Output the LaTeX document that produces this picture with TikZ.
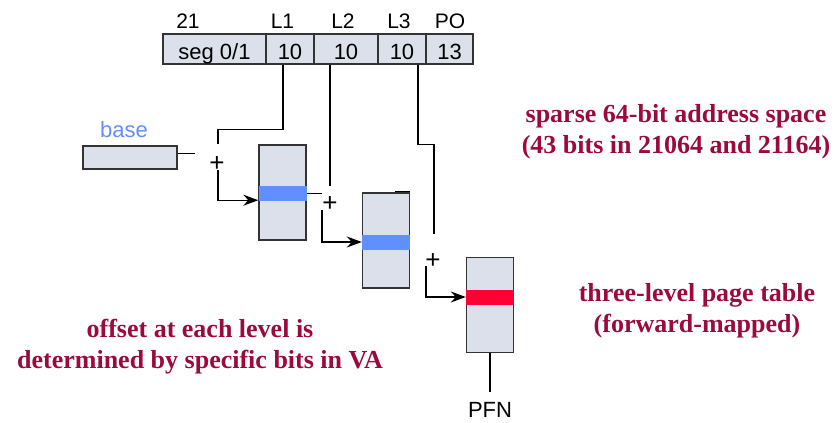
\documentclass[tikz,border=0pt]{standalone}
\usepackage{fontspec}
\setmainfont{Liberation Serif}
\setsansfont{Liberation Sans}
\usepackage{tikz}
\usetikzlibrary{arrows.meta,calc}
\definecolor{BoxFill}{HTML}{DCE0EA}
\definecolor{BoxLine}{HTML}{333333}
\definecolor{BandBlue}{HTML}{6090FF}
\definecolor{BandRed}{HTML}{FF0033}
\definecolor{NoteRed}{HTML}{9B0A3A}

\begin{document}
\begin{tikzpicture}[x=1pt,y=-1pt,
      every node/.style={font=\sffamily\fontsize{22}{26}\selectfont, inner sep=0pt},
      FD/.style={draw=BoxLine, fill=BoxFill, line width=1.4pt, minimum height=30pt,
          text height=21pt, text depth=0pt},
      HD/.style={font=\sffamily\fontsize{21}{25}\selectfont},
      TB/.style={draw=BoxLine, fill=BoxFill, line width=1.4pt,
          minimum width=47pt, minimum height=95pt},
      BD/.style={minimum width=48pt, minimum height=15pt},
      PL/.style={font=\sffamily\fontsize{26}{30}\selectfont},
      NT/.style={font=\rmfamily\bfseries\fontsize{26}{31}\selectfont, text=NoteRed, align=center},
      ln/.style={line width=1.3pt},
      ar/.style={-{Stealth[length=15pt,width=11pt,inset=5pt]}, line width=1.3pt},
    ]
    \useasboundingbox (0,0) rectangle (839,423);

    % VA fields
    \node[FD, minimum width=103pt] (seg) at (214.5,49) {seg 0/1};
    \node[FD, minimum width=48pt]  (l1f) at (290,49)   {10};
    \node[FD, minimum width=64pt]  (l2f) at (346,49)   {10};
    \node[FD, minimum width=48pt]  (l3f) at (402,49)   {10};
    \node[FD, minimum width=47pt]  (pof) at (449.5,49) {13};
    \node[HD] (h0) at (188,21.5)   {21};
    \node[HD] (h1) at (282.5,21.5) {L1};
    \node[HD] (h2) at (343,21.5)   {L2};
    \node[HD] (h3) at (399,21.5)   {L3};
    \node[HD] (h4) at (450,21.5)   {PO};

    % base register
    \node[draw=BoxLine, fill=BoxFill, line width=1.4pt,
      minimum width=94pt, minimum height=23pt] (base) at (130,157.5) {};
    \node[text=BandBlue] (baselbl) at (124,130) {base};

    % tables
    \node[TB] (t1) at (282.5,192.5) {};
    \node[TB] (t2) at (386,240.5) {};
    \node[TB] (t3) at (490,305) {};
    \node[BD, fill=BandBlue] (b1) at (282.5,193.5) {};
    \node[BD, fill=BandBlue] (b2) at (386,242) {};
    \node[BD, fill=BandRed]  (b3) at (490,297) {};
    \node (pfn) at (490,410) {PFN};

    % adders
    \node[PL] (plus1) at (217,164)   {+};
    \node[PL] (plus2) at (330,203.5) {+};
    \node[PL] (plus3) at (433,260.5) {+};

    % level 1
    \draw[ln] ([xshift=-7pt]l1f.south) -- ++(0,65) -| ($(plus1)+(1,-20)$);
    \draw[ln] ([yshift=4pt]base.east) -- ++(17,0);
    \draw[ar] ($(plus1)+(1,6)$) |- ([yshift=1pt]b1.south west);
    \draw[ln] (b1.east) -- ++(15,0);

    % level 2
    \draw[ln] (plus2.north |- l2f.south) -- ($(plus2)+(0,-18)$);
    \draw[ar] ($(plus2)+(-8,6)$) |- (b2.west);
    \draw[ln] ([yshift=1pt]t2.north east) -- ++(-15,0);

    % level 3
    \draw[ln] ([xshift=16pt]l3f.south) -- ++(0,80) -| ($(plus3)+(1,-27)$);
    \draw[ar] ($(plus3)+(-7,5)$) |- (b3.west);
    \draw[ln] (t3.south) -- ([yshift=10pt]pfn.north);

    % notes
    \node[NT] (n1) at (676,131.5)
    {sparse 64-bit address space\\(43 bits in 21064 and 21164)};
    \node[NT] (n2) at (697,311)
    {three-level page table\\(forward-mapped)};
    \node[NT] (n3) at (200,346.5)
    {offset at each level is\\determined by specific bits in VA};
  \end{tikzpicture}
\end{document}
